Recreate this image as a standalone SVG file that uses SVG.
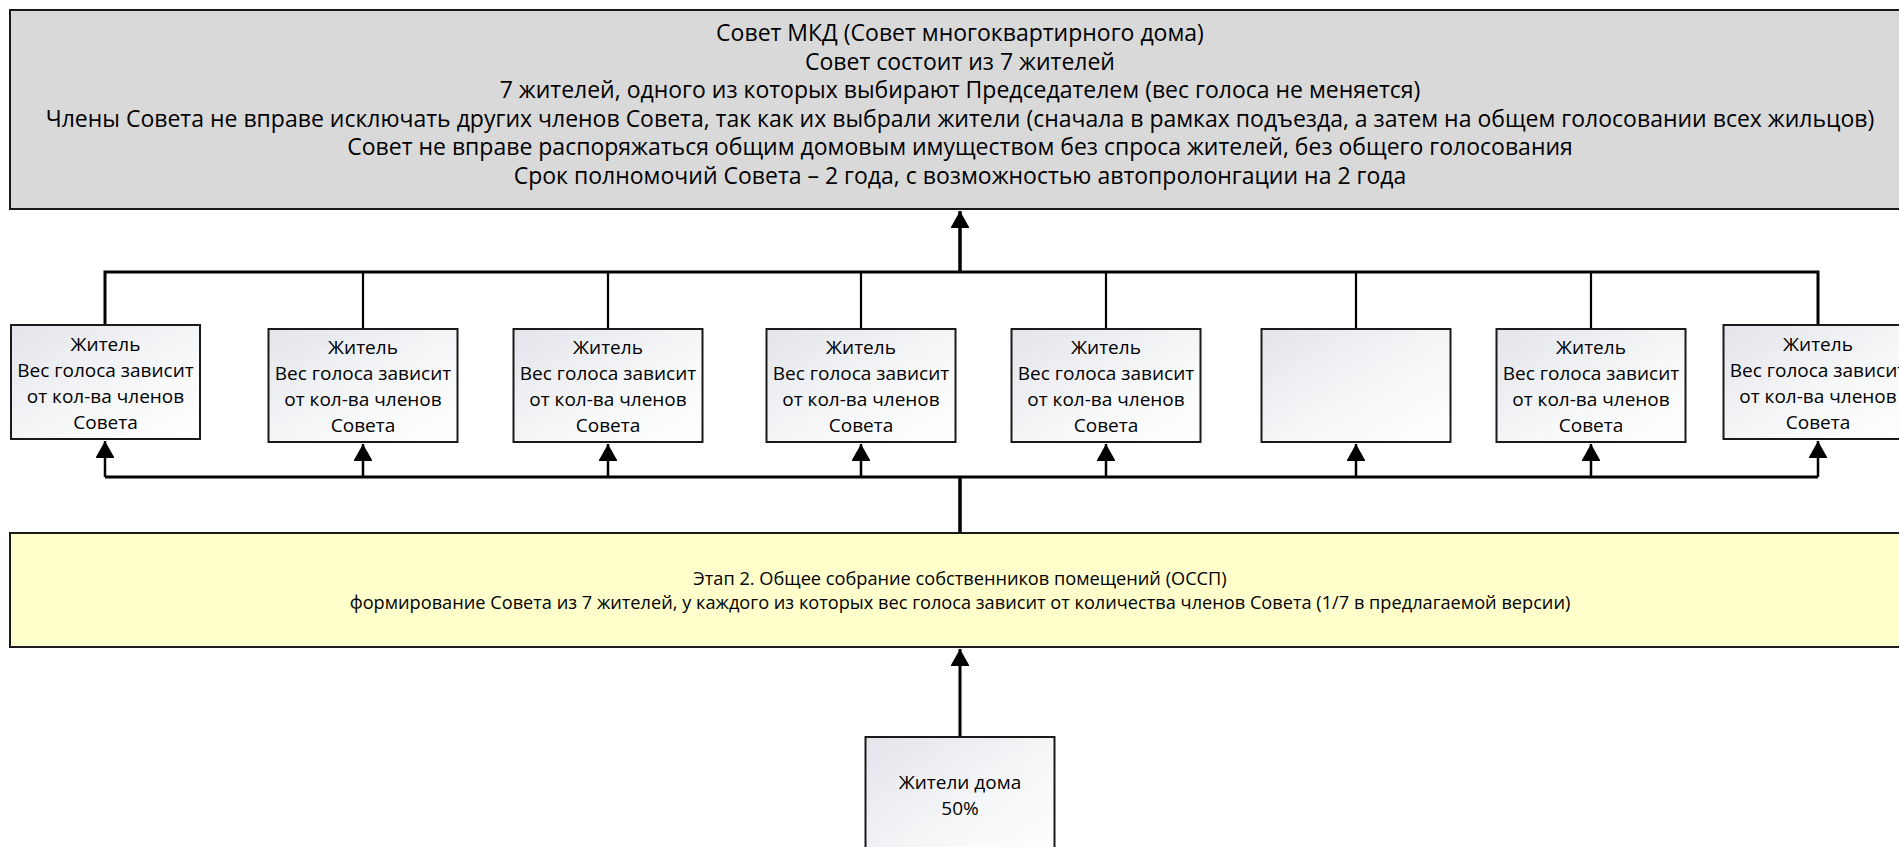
<svg xmlns="http://www.w3.org/2000/svg" width="1899" height="847" viewBox="0 0 1899 847">
<style>
text{font-family:"Open Sans","Noto Sans","Liberation Sans",sans-serif;fill:#000;text-anchor:middle}
.t{font-size:23px}
.r{font-size:19px}
.y{font-size:18.2px}
.box{stroke:#1a1a1a;stroke-width:2}
.res{fill:url(#g)}
.c{fill:none;stroke:#000}
</style>
<defs>
<linearGradient id="g" x1="0" y1="0" x2="1" y2="1">
<stop offset="0" stop-color="#e3e5eb"/>
<stop offset="0.6" stop-color="#f7f8f9"/>
<stop offset="1" stop-color="#ffffff"/>
</linearGradient>
<marker id="a" markerUnits="userSpaceOnUse" markerWidth="20" markerHeight="18" refX="17" refY="9.5" orient="auto">
<path d="M0,0 L17,9.5 L0,19 Z" fill="#000"/>
</marker>
</defs>
<g id="council">
<rect class="box" x="10" y="10" width="1910" height="199" fill="#d9d9d9" stroke-width="2.5"/>
<text class="t" x="960" y="41">Совет МКД (Совет многоквартирного дома)</text>
<text class="t" x="960" y="69.6">Совет состоит из 7 жителей</text>
<text class="t" x="960" y="98.2">7 жителей, одного из которых выбирают Председателем (вес голоса не меняется)</text>
<text class="t" x="960" y="126.8">Члены Совета не вправе исключать других членов Совета, так как их выбрали жители (сначала в рамках подъезда, а затем на общем голосовании всех жильцов)</text>
<text class="t" x="960" y="155.4">Совет не вправе распоряжаться общим домовым имуществом без спроса жителей, без общего голосования</text>
<text class="t" x="960" y="184">Срок полномочий Совета – 2 года, с возможностью автопролонгации на 2 года</text>
</g>
<g id="connectors">
<path class="c" d="M960,272 V211" stroke-width="3.5" marker-end="url(#a)"/>
<path class="c" d="M105,325 V272 H1818 V325" stroke-width="3"/>
<path class="c" d="M363,272 V329 M608,272 V329 M861,272 V329 M1106,272 V329 M1356,272 V329 M1591,272 V329" stroke-width="2.2"/>
<path class="c" d="M105,477 H1818" stroke-width="3"/>
<path class="c" d="M960,477 V533" stroke-width="3.5"/>
<path class="c" d="M105,477 V441" stroke-width="2.5" marker-end="url(#a)"/>
<path class="c" d="M363,477 V444" stroke-width="2.5" marker-end="url(#a)"/>
<path class="c" d="M608,477 V444" stroke-width="2.5" marker-end="url(#a)"/>
<path class="c" d="M861,477 V444" stroke-width="2.5" marker-end="url(#a)"/>
<path class="c" d="M1106,477 V444" stroke-width="2.5" marker-end="url(#a)"/>
<path class="c" d="M1356,477 V444" stroke-width="2.5" marker-end="url(#a)"/>
<path class="c" d="M1591,477 V444" stroke-width="2.5" marker-end="url(#a)"/>
<path class="c" d="M1818,477 V441" stroke-width="2.5" marker-end="url(#a)"/>
<path class="c" d="M960,737 V649" stroke-width="3" marker-end="url(#a)"/>
</g>
<g id="res1">
<rect class="box res" x="11" y="325" width="189" height="114"/>
<text class="r" x="105.5" y="350.5">Житель</text>
<text class="r" x="105.5" y="376.5">Вес голоса зависит</text>
<text class="r" x="105.5" y="402.5">от кол-ва членов</text>
<text class="r" x="105.5" y="428.5">Совета</text>
</g>
<g id="res2">
<rect class="box res" x="268.5" y="329" width="189" height="113"/>
<text class="r" x="363" y="353.5">Житель</text>
<text class="r" x="363" y="379.5">Вес голоса зависит</text>
<text class="r" x="363" y="405.5">от кол-ва членов</text>
<text class="r" x="363" y="431.5">Совета</text>
</g>
<g id="res3">
<rect class="box res" x="513.5" y="329" width="189" height="113"/>
<text class="r" x="608" y="353.5">Житель</text>
<text class="r" x="608" y="379.5">Вес голоса зависит</text>
<text class="r" x="608" y="405.5">от кол-ва членов</text>
<text class="r" x="608" y="431.5">Совета</text>
</g>
<g id="res4">
<rect class="box res" x="766.5" y="329" width="189" height="113"/>
<text class="r" x="861" y="353.5">Житель</text>
<text class="r" x="861" y="379.5">Вес голоса зависит</text>
<text class="r" x="861" y="405.5">от кол-ва членов</text>
<text class="r" x="861" y="431.5">Совета</text>
</g>
<g id="res5">
<rect class="box res" x="1011.5" y="329" width="189" height="113"/>
<text class="r" x="1106" y="353.5">Житель</text>
<text class="r" x="1106" y="379.5">Вес голоса зависит</text>
<text class="r" x="1106" y="405.5">от кол-ва членов</text>
<text class="r" x="1106" y="431.5">Совета</text>
</g>
<g id="res6">
<rect class="box res" x="1261.5" y="329" width="189" height="113"/>
</g>
<g id="res7">
<rect class="box res" x="1496.5" y="329" width="189" height="113"/>
<text class="r" x="1591" y="353.5">Житель</text>
<text class="r" x="1591" y="379.5">Вес голоса зависит</text>
<text class="r" x="1591" y="405.5">от кол-ва членов</text>
<text class="r" x="1591" y="431.5">Совета</text>
</g>
<g id="res8">
<rect class="box res" x="1723.5" y="325" width="189" height="114"/>
<text class="r" x="1818" y="350.5">Житель</text>
<text class="r" x="1818" y="376.5">Вес голоса зависит</text>
<text class="r" x="1818" y="402.5">от кол-ва членов</text>
<text class="r" x="1818" y="428.5">Совета</text>
</g>
<g id="stage2">
<rect class="box" x="10" y="533" width="1910" height="114" fill="#ffffcc"/>
<text class="y" x="960" y="584.5">Этап 2. Общее собрание собственников помещений (ОССП)</text>
<text class="y" x="960" y="608.5">формирование Совета из 7 жителей, у каждого из которых вес голоса зависит от количества членов Совета (1/7 в предлагаемой версии)</text>
</g>
<g id="residents">
<rect class="box res" x="865.5" y="737" width="189" height="140"/>
<text class="r" x="960" y="788.5">Жители дома</text>
<text class="r" x="960" y="814.5">50%</text>
</g>
</svg>
